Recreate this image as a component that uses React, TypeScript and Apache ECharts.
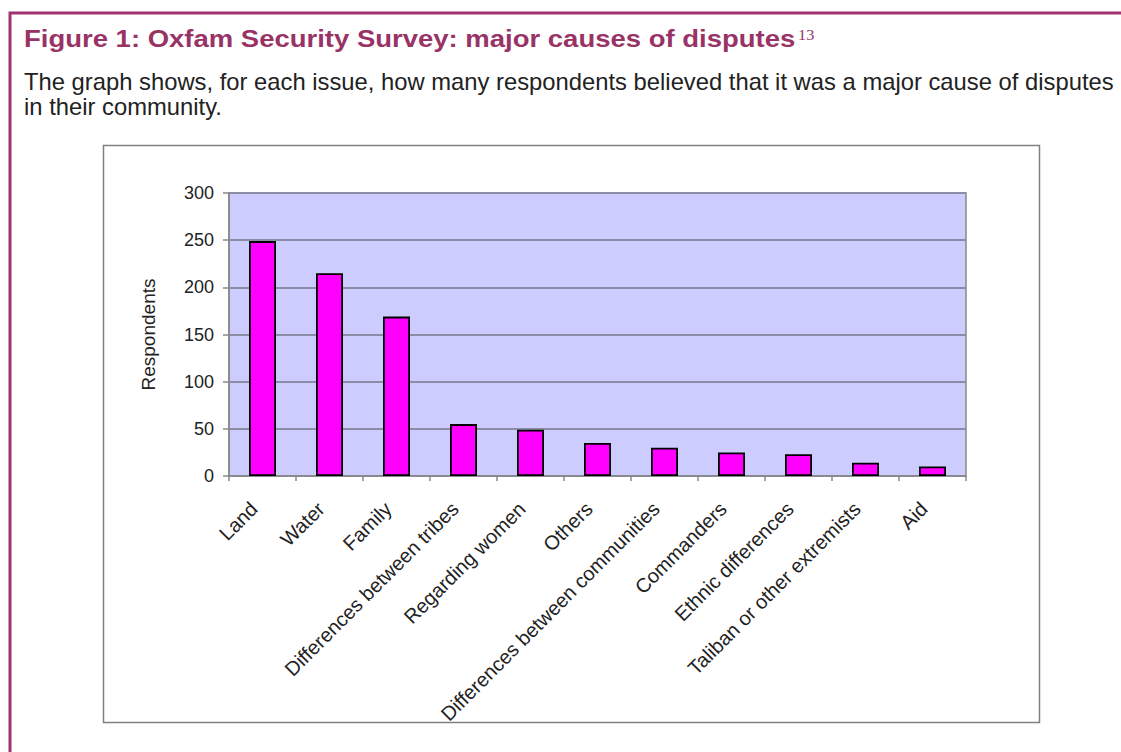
import React, { useEffect, useRef } from "react";
import * as echarts from "echarts";

// Survey results: number of respondents naming each issue as a major cause of disputes
const causes = [
  "Land",
  "Water",
  "Family",
  "Differences between tribes",
  "Regarding women",
  "Others",
  "Differences between communities",
  "Commanders",
  "Ethnic differences",
  "Taliban or other extremists",
  "Aid",
];
const respondents = [249, 215, 169, 55, 49, 35, 30, 25, 23, 14, 10];
const yTicks = [0, 50, 100, 150, 200, 250, 300];

const titleText = "Figure 1: Oxfam Security Survey: major causes of disputes";
const footnoteMark = "13";
const introLines = [
  "The graph shows, for each issue, how many respondents believed that it was a major cause of disputes",
  "in their community.",
];

const FONT = "Liberation Sans, Arial, Helvetica, sans-serif";
const PLUM = "#993366";

export default function App() {
  const ref = useRef<HTMLDivElement>(null);

  useEffect(() => {
    if (!ref.current) return;
    const chart = echarts.init(ref.current, undefined, { renderer: "svg" });
    chart.setOption({
      animation: false,
      backgroundColor: "#ffffff",
      textStyle: { fontFamily: FONT },
      graphic: [
        // page rule: top and left edge
        {
          type: "polyline",
          z: 0,
          shape: { points: [[10, 752], [10, 13], [1121, 13]] },
          style: { stroke: "#A3336E", lineWidth: 3, fill: "none" },
          silent: true,
        },
        // chart frame
        {
          type: "rect",
          z: 0,
          shape: { x: 103.5, y: 145.5, width: 936, height: 577 },
          style: { stroke: "#808080", lineWidth: 1.5, fill: "none" },
          silent: true,
        },
        {
          type: "text",
          x: 24,
          y: 27,
          scaleX: 1.17,
          style: {
            text: `{t|${titleText}}{s|${footnoteMark}}`,
            rich: {
              t: { font: `bold 23.5px ${FONT}`, fill: PLUM },
              s: {
                font: `14px "Liberation Serif", "DejaVu Serif", serif`,
                fill: PLUM,
                padding: [0, 0, 9, 2],
              },
            },
            verticalAlign: "top",
          },
          silent: true,
        },
        {
          type: "text",
          x: 24,
          y: 70,
          scaleX: 1.035,
          style: {
            text: introLines.join("\n"),
            font: `23px ${FONT}`,
            fill: "#222222",
            lineHeight: 24.5,
            verticalAlign: "top",
          },
          silent: true,
        },
      ],
      grid: {
        left: 229,
        top: 193,
        width: 737,
        height: 283,
        show: true,
        backgroundColor: "#CCCCFF",
        borderColor: "#888888",
        borderWidth: 1.5,
        containLabel: false,
      },
      xAxis: {
        type: "category",
        data: causes,
        axisLine: { lineStyle: { color: "#888888", width: 1.5 } },
        axisTick: { show: true, length: 5, lineStyle: { color: "#888888", width: 1.5 } },
        axisLabel: {
          rotate: 45,
          interval: 0,
          margin: 21,
          padding: [0, 12, 0, 0],
          fontSize: 20,
          color: "#222222",
          fontFamily: FONT,
        },
      },
      yAxis: {
        type: "value",
        min: yTicks[0],
        max: yTicks[yTicks.length - 1],
        interval: 50,
        name: "Respondents",
        nameLocation: "middle",
        nameRotate: 90,
        nameGap: 71,
        nameTextStyle: { fontSize: 19, color: "#222222", fontFamily: FONT },
        axisLine: { show: true, lineStyle: { color: "#888888", width: 1.5 } },
        axisTick: { show: true, length: 6, lineStyle: { color: "#888888", width: 1.5 } },
        axisLabel: { fontSize: 18, color: "#222222", margin: 15, fontFamily: FONT },
        splitLine: { show: true, lineStyle: { color: "#8C8CA6", width: 2 } },
      },
      series: [
        {
          type: "bar",
          data: respondents,
          barWidth: 27,
          itemStyle: { color: "#FF00FF", borderColor: "#000000", borderWidth: 1.8 },
        },
      ],
    });
    return () => chart.dispose();
  }, []);

  return (
    <div
      ref={ref}
      style={{ position: "fixed", left: 0, top: 0, width: 1121, height: 752 }}
    />
  );
}
